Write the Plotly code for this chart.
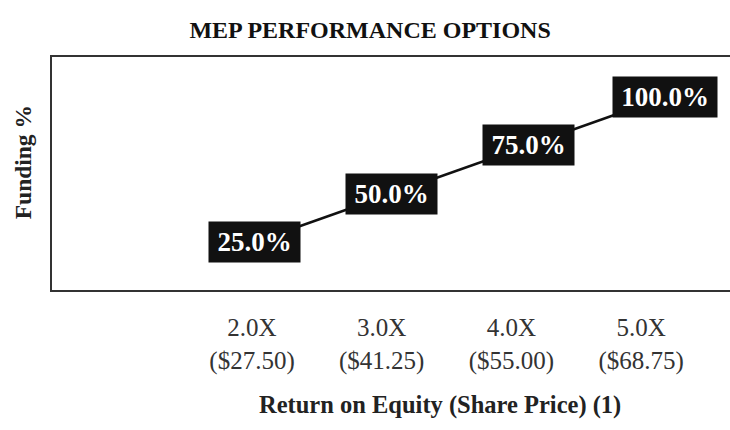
import plotly.graph_objects as go

multiples = [2.0, 3.0, 4.0, 5.0]
prices = ["$27.50", "$41.25", "$55.00", "$68.75"]
funding = [25.0, 50.0, 75.0, 100.0]

tick_text = [f"{m:.1f}X<br>({p})" for m, p in zip(multiples, prices)]

FONT = "Liberation Serif, Times New Roman, serif"

fig = go.Figure()
fig.add_trace(go.Scatter(x=multiples, y=funding, mode="lines",
                         line=dict(color="#111111", width=2.5),
                         hoverinfo="skip", showlegend=False))
# invisible trace for the tick-label axis
fig.add_trace(go.Scatter(x=multiples, y=funding, xaxis="x2", mode="markers",
                         marker=dict(opacity=0), hoverinfo="skip", showlegend=False))

for m, f in zip(multiples, funding):
    label = f"{f:.1f}%"
    fig.add_annotation(x=m, y=f, xref="x", yref="y", text=f"<b>{label}</b>",
                       showarrow=False, bgcolor="#111111", borderpad=5,
                       width=13 * len(label) + 16,
                       font=dict(family=FONT, size=27, color="white"))

fig.add_annotation(x=0.572, y=-0.494, xref="paper", yref="paper",
                   text="<b>Return on Equity (Share Price) (1)</b>", showarrow=False,
                   font=dict(family=FONT, size=24.5, color="#222222"),
                   xanchor="center", yanchor="middle")

fig.add_annotation(x=-0.0428, y=0.548, xref="paper", yref="paper",
                   text="<b>Funding %</b>", showarrow=False, textangle=-90,
                   font=dict(family=FONT, size=23.5, color="#222222"),
                   xanchor="center", yanchor="middle")

fig.update_layout(
    width=730, height=430,
    margin=dict(l=52, r=0, t=57, b=140, autoexpand=False),
    paper_bgcolor="white", plot_bgcolor="white",
    title=dict(text="<b>MEP PERFORMANCE OPTIONS</b>", x=0.507, xanchor="center",
               y=1 - 30 / 430, yanchor="middle", yref="container",
               font=dict(family=FONT, size=24, color="#111111")),
    xaxis=dict(range=[0.515, 5.475], showticklabels=False, showgrid=False,
               zeroline=False, showline=True, mirror=True, linecolor="#333333",
               linewidth=2, ticks="", automargin=False),
    xaxis2=dict(range=[0.458, 5.685], overlaying="x", side="bottom", anchor="y",
                tickmode="array", tickvals=multiples, ticktext=tick_text,
                showgrid=False, zeroline=False, showline=False, ticks="",
                ticklabelstandoff=20, automargin=False,
                tickfont=dict(family=FONT, size=25, color="#333333")),
    yaxis=dict(range=[0.2, 120.7], showticklabels=False, showgrid=False,
               zeroline=False, showline=True, linecolor="#333333", linewidth=2,
               ticks="", automargin=False),
)

fig.write_html("out.html", config={"displayModeBar": False},
               post_script="document.body.style.margin='0';")
